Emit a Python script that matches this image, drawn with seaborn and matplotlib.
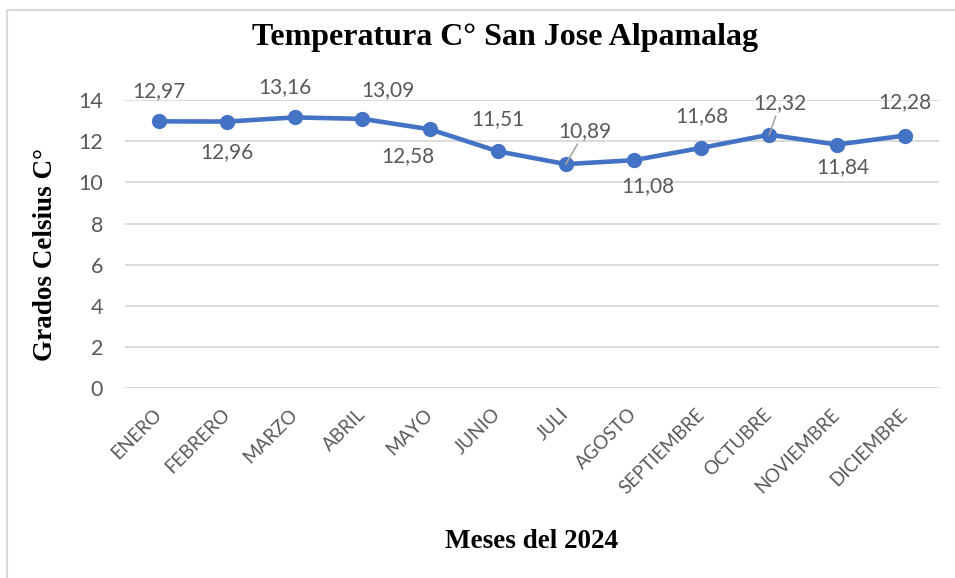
import pandas as pd
import matplotlib
matplotlib.use('Agg')
import matplotlib.pyplot as plt
from matplotlib.lines import Line2D
import seaborn as sns

# datos
meses = ['ENERO', 'FEBRERO', 'MARZO', 'ABRIL', 'MAYO', 'JUNIO', 'JULI',
         'AGOSTO', 'SEPTIEMBRE', 'OCTUBRE', 'NOVIEMBRE', 'DICIEMBRE']
temperaturas = [12.97, 12.96, 13.16, 13.09, 12.58, 11.51, 10.89,
                11.08, 11.68, 12.32, 11.84, 12.28]
y_ticks = [0, 2, 4, 6, 8, 10, 12, 14]

# posicion de las etiquetas (offset en puntos) y cuales llevan linea guia
label_offsets = [(0, 22), (0, -22), (-7, 22), (18, 21), (-16, -19), (0, 23),
                 (14, 24), (10, -19), (0, 23), (8, 23), (4, -16), (0, 24)]
con_guia = [6, 9]

azul = '#4472C4'
gris_texto = '#595959'

df = pd.DataFrame({'mes': meses, 'temp': temperaturas})

sns.set_theme(style='white')
plt.rcParams['font.family'] = ['Lato', 'DejaVu Sans']

fig = plt.figure(figsize=(9.55, 5.78), dpi=100)
ax = fig.add_axes([0.131, 0.3287, 0.852, 0.498])

sns.lineplot(data=df, x='mes', y='temp', ax=ax, color=azul, linewidth=3.3,
             marker='o', markersize=11, markeredgewidth=0, sort=False)

ax.set_xlim(-0.5, len(meses) - 0.5)
ax.set_ylim(0, 14)
ax.set_yticks(y_ticks)
ax.grid(axis='y', color='#d9d9d9', linewidth=1.3)
ax.set_axisbelow(True)
sns.despine(ax=ax, left=True, bottom=True)

ax.tick_params(axis='y', length=0, pad=16, labelsize=15.5, labelcolor=gris_texto)
ax.tick_params(axis='x', length=0, pad=17, labelsize=13.5, labelcolor=gris_texto)
ax.set_xticks(range(len(meses)))
ax.set_xticklabels(meses, rotation=45, ha='right', va='center',
                   rotation_mode='anchor')

for i, (v, off) in enumerate(zip(temperaturas, label_offsets)):
    txt = f'{v:.2f}'.replace('.', ',')
    kw = {}
    if i in con_guia:
        kw['arrowprops'] = dict(arrowstyle='-', color='#a6a6a6', lw=1.2,
                                shrinkA=0, shrinkB=0)
    ax.annotate(txt, xy=(i, v), xytext=off, textcoords='offset points',
                ha='center', va='center', fontsize=15, color=gris_texto,
                annotation_clip=False, zorder=5, **kw)

ax.set_xlabel('')
ax.set_ylabel('')
serif = dict(fontfamily='Liberation Serif', fontweight='bold', color='black')
fig.text(505 / 955, 1 - 38 / 578, 'Temperatura C° San Jose Alpamalag',
         ha='center', va='center', fontsize=23, **serif)
fig.text(532 / 955, 1 - 541 / 578, 'Meses del 2024',
         ha='center', va='center', fontsize=19.5, **serif)
fig.text(46 / 955, 1 - 254 / 578, 'Grados Celsius C°', rotation=90,
         ha='center', va='center', fontsize=19.5, **serif)

# borde del grafico (solo izquierda y arriba visibles)
fig.add_artist(Line2D([7 / 955, 7 / 955], [0, 1 - 10 / 578], color='#d9d9d9',
                      lw=1.5, transform=fig.transFigure))
fig.add_artist(Line2D([7 / 955, 1], [1 - 10 / 578, 1 - 10 / 578], color='#d9d9d9',
                      lw=1.5, transform=fig.transFigure))

fig.savefig('out.png', dpi=100, facecolor='white')
